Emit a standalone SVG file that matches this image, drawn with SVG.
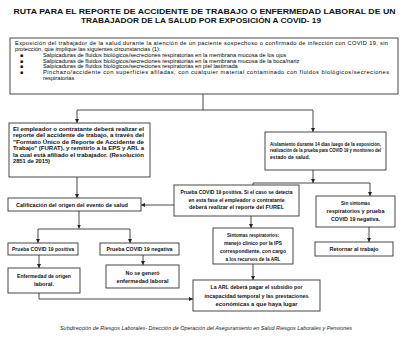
<svg xmlns="http://www.w3.org/2000/svg" width="409" height="343" viewBox="0 0 409 343">
<defs>
<marker id="ah" viewBox="0 0 6 6" refX="6" refY="3" markerWidth="4" markerHeight="4" orient="auto" markerUnits="userSpaceOnUse"><path d="M0,0 L6,3 L0,6 Z" fill="#222"/></marker>
<style>
.bx{fill:#fff;stroke:#333;stroke-width:0.9}
.t{font-family:"Liberation Sans",Arial,sans-serif;font-size:5.7px;fill:#000}
.b{font-family:"Liberation Sans",Arial,sans-serif;font-size:5.6px;font-weight:bold;fill:#111}
.s{font-size:4.9px}
.c{text-anchor:middle}
.ttl{font-family:"Liberation Sans",Arial,sans-serif;font-size:8px;font-weight:bold;fill:#111;text-anchor:middle}
.ft{font-family:"Liberation Sans",Arial,sans-serif;font-size:5.3px;font-style:italic;fill:#222;text-anchor:middle}
.bul{font-family:"DejaVu Sans",sans-serif;font-size:5px;fill:#111}
.ln{fill:none;stroke:#333;stroke-width:0.9}
.ar{fill:none;stroke:#333;stroke-width:0.9;marker-end:url(#ah)}
</style>
</defs>
<rect width="409" height="343" fill="#fff"/>
<g id="title">
<text class="ttl" x="204.5" y="14" textLength="382" lengthAdjust="spacingAndGlyphs">RUTA PARA EL REPORTE DE ACCIDENTE DE TRABAJO O ENFERMEDAD LABORAL DE UN</text>
<text class="ttl" x="201" y="22.5" textLength="240" lengthAdjust="spacingAndGlyphs">TRABAJADOR DE LA SALUD POR EXPOSICIÓN A COVID- 19</text>
</g>
<g id="connectors">
<path class="ln" d="M203,94 V110 M77,110 H313"/>
<path class="ar" d="M77,110 V123"/>
<path class="ar" d="M313,110 V132"/>
<path class="ar" d="M77,177 V198"/>
<path class="ar" d="M313,170 V183"/>
<path class="ln" d="M253,183 H370 M253,183 V185"/>
<path class="ar" d="M370,183 V196"/>
<path class="ar" d="M174,205 H141"/>
<path class="ar" d="M79,211 V228.5"/>
<path class="ln" d="M38,229 H130"/>
<path class="ar" d="M38,229 V243"/>
<path class="ar" d="M130,229 V243"/>
<path class="ar" d="M39,255 V268"/>
<path class="ar" d="M143,255 V265"/>
<path class="ar" d="M251,216 V228"/>
<path class="ar" d="M253,264 V280"/>
<path class="ar" d="M369,227 V242"/>
<path class="ar" d="M39,293 V299 H193"/>
</g>
<g id="n_exposicion">
<rect class="bx" x="10" y="38" width="388" height="56"/>
<text class="t" x="15" y="45" textLength="373" lengthAdjust="spacing">Exposición del trabajador de la salud durante la atención de un paciente sospechoso o confirmado de infección con COVID 19, sin</text>
<text class="t" x="15" y="51">protección, que implique las siguientes circunstancias (1):</text>
<text class="bul" x="20" y="56.8">▪</text>
<text class="t" x="43" y="56.8">Salpicaduras de fluidos biológicos/secreciones respiratorias en la membrana mucosa de los ojos</text>
<text class="bul" x="20" y="62.6">▪</text>
<text class="t" x="43" y="62.6">Salpicaduras de fluidos biológicos/secreciones respiratorias en la membrana mucosa de la boca/nariz</text>
<text class="bul" x="20" y="68.4">▪</text>
<text class="t" x="43" y="68.4">Salpicaduras de fluidos biológicos/secreciones respiratorias en piel lastimada</text>
<text class="bul" x="20" y="74.2">▪</text>
<text class="t" x="43" y="74.2" textLength="346" lengthAdjust="spacing">Pinchazo/accidente con superficies afiladas, con cualquier material contaminado con fluidos biológicos/secreciones</text>
<text class="t" x="43" y="80">respiratorias</text>
</g>
<g id="n_empleador">
<rect class="bx" x="9" y="123" width="141" height="54"/>
<text class="b" x="13" y="131" textLength="131" lengthAdjust="spacingAndGlyphs">El empleador o contratante deberá realizar el</text>
<text class="b" x="13" y="137.4" textLength="131" lengthAdjust="spacingAndGlyphs">reporte del accidente de trabajo, a través del</text>
<text class="b" x="13" y="143.8" textLength="131" lengthAdjust="spacingAndGlyphs">"Formato Único de Reporte de Accidente de</text>
<text class="b" x="13" y="150.2" textLength="131" lengthAdjust="spacingAndGlyphs">Trabajo" (FURAT), y remitirlo a la EPS y ARL a</text>
<text class="b" x="13" y="156.6" textLength="131" lengthAdjust="spacingAndGlyphs">la cual está afiliado el trabajador. (Resolución</text>
<text class="b" x="13" y="163" textLength="37" lengthAdjust="spacingAndGlyphs">2851 de 2015)</text>
</g>
<g id="n_aislamiento">
<rect class="bx" x="265" y="132" width="121" height="38"/>
<text class="b s" x="270" y="145.5" textLength="111" lengthAdjust="spacingAndGlyphs">Aislamiento durante 14 días luego de la exposición,</text>
<text class="b s" x="270" y="152" textLength="111" lengthAdjust="spacingAndGlyphs">realización de la prueba para COVID 19 y monitoreo del</text>
<text class="b s" x="270" y="158.5" textLength="40" lengthAdjust="spacingAndGlyphs">estado de salud.</text>
</g>
<g id="n_calificacion">
<rect class="bx" x="8" y="198" width="133" height="13"/>
<text class="b c" x="72" y="206.6" textLength="112" lengthAdjust="spacingAndGlyphs">Calificación del origen del evento de salud</text>
</g>
<g id="n_positiva_furel">
<rect class="bx" x="174" y="185" width="125" height="31"/>
<text class="b c" x="236.5" y="194" textLength="112" lengthAdjust="spacingAndGlyphs">Prueba COVID 19 positiva. Si el caso se detecta</text>
<text class="b c" x="236.5" y="201.5" textLength="96" lengthAdjust="spacingAndGlyphs">en esta fase el empleador o contratante</text>
<text class="b c" x="236.5" y="209" textLength="95" lengthAdjust="spacingAndGlyphs">deberá realizar el reporte del FUREL</text>
</g>
<g id="n_sin_sintomas">
<rect class="bx" x="316" y="196" width="79" height="31"/>
<text class="b c" x="355.5" y="204.5" textLength="29" lengthAdjust="spacingAndGlyphs">Sin síntomas</text>
<text class="b c" x="355.5" y="212.5" textLength="58" lengthAdjust="spacingAndGlyphs">respiratorios y prueba</text>
<text class="b c" x="355.5" y="220.5" textLength="49" lengthAdjust="spacingAndGlyphs">COVID 19 negativa.</text>
</g>
<g id="n_prueba_pos">
<rect class="bx" x="8" y="243" width="70" height="12"/>
<text class="b c" x="43" y="251" textLength="62" lengthAdjust="spacingAndGlyphs">Prueba COVID 19 positiva</text>
</g>
<g id="n_prueba_neg">
<rect class="bx" x="100" y="243" width="79" height="12"/>
<text class="b c" x="139.5" y="251" textLength="66" lengthAdjust="spacingAndGlyphs">Prueba COVID 19 negativa</text>
</g>
<g id="n_enfermedad">
<rect class="bx" x="8" y="268" width="72" height="25"/>
<text class="b c" x="44" y="277.5" textLength="54" lengthAdjust="spacingAndGlyphs">Enfermedad de origen</text>
<text class="b c" x="44" y="285.5" textLength="20" lengthAdjust="spacingAndGlyphs">laboral.</text>
</g>
<g id="n_no_genero">
<rect class="bx" x="106" y="265" width="73" height="23"/>
<text class="b c" x="142.5" y="274.5" textLength="34" lengthAdjust="spacingAndGlyphs">No se generó</text>
<text class="b c" x="142.5" y="282.5" textLength="52" lengthAdjust="spacingAndGlyphs">enfermedad laboral</text>
</g>
<g id="n_sintomas">
<rect class="bx" x="213" y="228" width="80" height="36"/>
<text class="b c" x="253" y="236.5" textLength="52" lengthAdjust="spacingAndGlyphs">Síntomas respiratorios:</text>
<text class="b c" x="253" y="244.5" textLength="58" lengthAdjust="spacingAndGlyphs">manejo clínico por la IPS</text>
<text class="b c" x="253" y="252.5" textLength="66" lengthAdjust="spacingAndGlyphs">correspondiente, con cargo</text>
<text class="b c" x="253" y="260.5" textLength="55" lengthAdjust="spacingAndGlyphs">a los recursos de la ARL</text>
</g>
<g id="n_retornar">
<rect class="bx" x="315" y="242" width="78" height="14"/>
<text class="b c" x="354" y="251" textLength="49" lengthAdjust="spacingAndGlyphs">Retornar al trabajo</text>
</g>
<g id="n_arl">
<rect class="bx" x="193" y="280" width="127" height="31"/>
<text class="b c" x="256.5" y="289" textLength="92" lengthAdjust="spacingAndGlyphs">La ARL deberá pagar el subsidio por</text>
<text class="b c" x="256.5" y="297.5" textLength="104" lengthAdjust="spacingAndGlyphs">incapacidad temporal y las prestaciones</text>
<text class="b c" x="256.5" y="306" textLength="82" lengthAdjust="spacingAndGlyphs">económicas a que haya lugar</text>
</g>
<g id="footer">
<text class="ft" x="206" y="330" textLength="292" lengthAdjust="spacingAndGlyphs">Subdirección de Riesgos Laborales- Dirección de Operación del Aseguramiento en Salud Riesgos Laborales y Pensiones</text>
</g>
</svg>
